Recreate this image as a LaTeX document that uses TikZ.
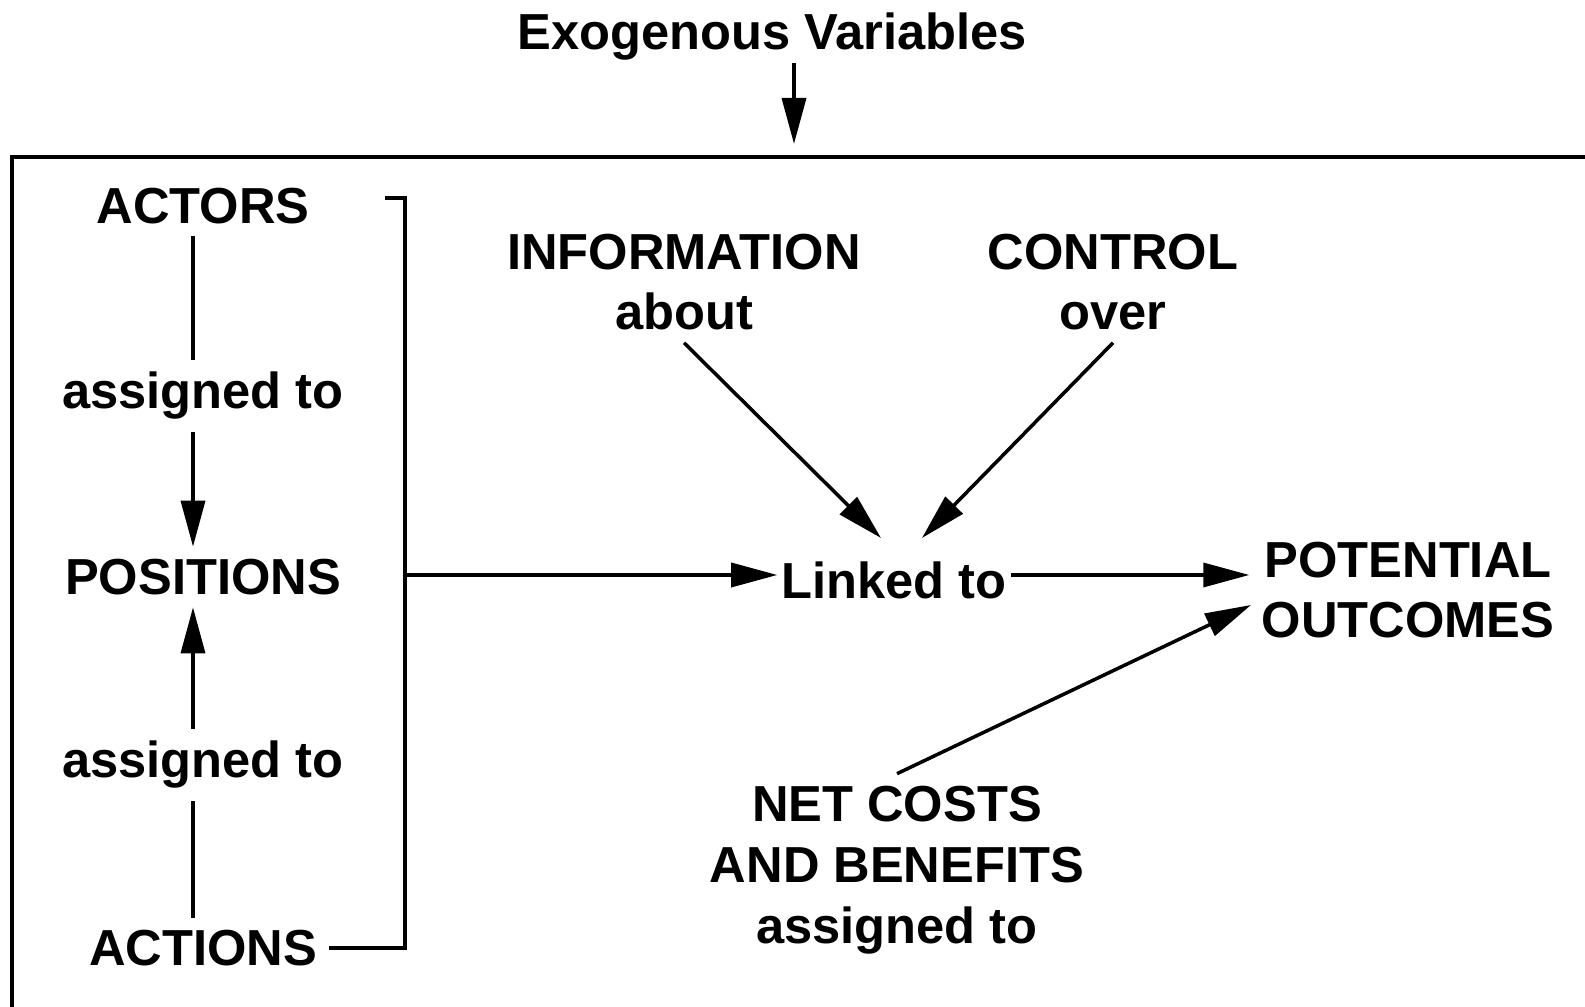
\documentclass[tikz,border=0pt]{standalone}
\usepackage{fontspec}
\setmainfont{Liberation Sans}
\usetikzlibrary{arrows.meta}

\begin{document}
\begin{tikzpicture}[x=0.01cm,y=-0.01cm,
    lbl/.style={font=\fontsize{14.4}{17.3}\selectfont\bfseries,align=center},
    ln/.style={line width=1pt},
    arr/.style={line width=1pt,-{Triangle[length=0.46cm,width=0.24cm]}}]
  \useasboundingbox (0,0) rectangle (1585,1007);
  % frame, open at right and bottom
  \draw[line width=1.2pt] (1585,157) -- (12,157) -- (12,1007);

  \node[lbl] (exo) at (772,37) {Exogenous Variables};
  \coordinate (exotip) at (794,144);
  \draw[arr] ([yshift=2.8pt]exo.south -| exotip) -- (exotip);

  % left column
  \coordinate (spine) at (193,0);
  \node[lbl] (actors) at (203,206) {ACTORS};
  \node[lbl] (asg1) at (203,396) {assigned to};
  \node[lbl] (positions) at (203,577) {POSITIONS};
  \node[lbl] (asg2) at (203,765) {assigned to};
  \node[lbl] (actions) at (203,948) {ACTIONS};
  \draw[ln] (actors.south -| spine) -- (asg1.north -| spine);
  \draw[arr] (asg1.south -| spine) -- (positions.north -| spine);
  \draw[ln] (actions.north -| spine) -- (asg2.south -| spine);
  \draw[arr] (asg2.north -| spine) -- (positions.south -| spine);
  \draw[ln] (actions.east) -| (405,198) -- (385,198);

  % right part
  \node[lbl] (info) at (684,282) {INFORMATION\\about};
  \node[lbl] (ctrl) at (1113,282) {CONTROL\\over};
  \node[lbl,inner sep=1pt] (linked) at (894,580) {Linked to};
  \node[lbl] (outc) at (1408,590) {POTENTIAL\\OUTCOMES};
  \node[lbl] (net) at (897,870) {NET COSTS\\AND BENEFITS\\assigned to};

  \coordinate (brk) at (405,575);
  \coordinate (linkin1) at (881,538);
  \coordinate (linkin2) at (922,538);
  \coordinate (outcin) at (1251,605);
  \draw[arr] (brk) -- (brk -| linked.west);
  \draw[arr] (info.south) -- (linkin1);
  \draw[arr] (ctrl.south) -- (linkin2);
  \draw[arr] (linked.east |- brk) -- (brk -| outc.west);
  \draw[arr] (net.north) -- (outcin);
\end{tikzpicture}
\end{document}
